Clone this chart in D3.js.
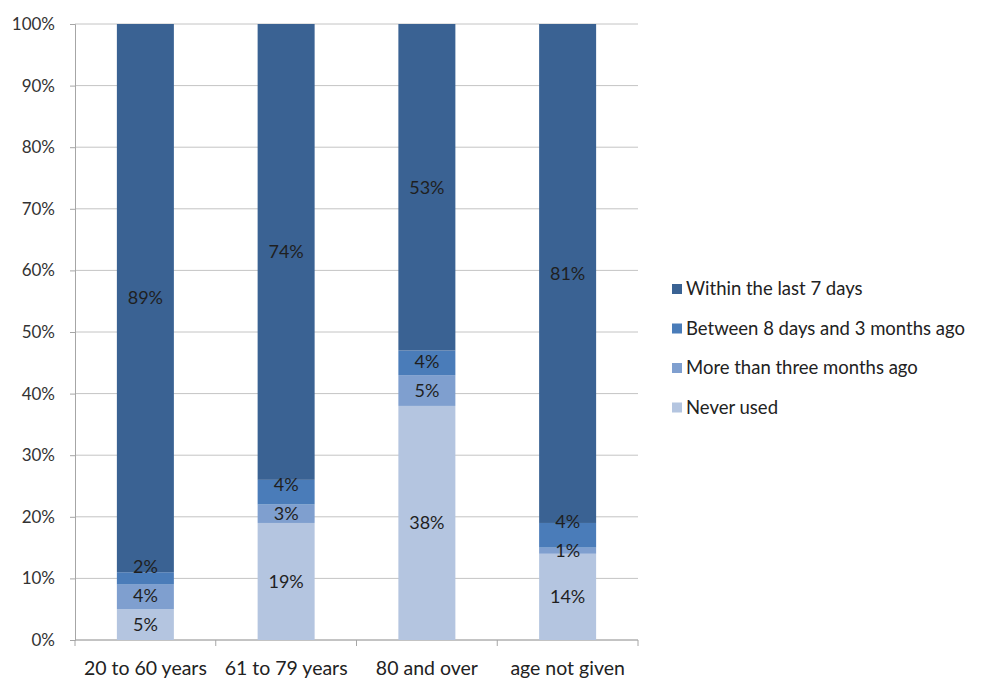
<!DOCTYPE html>
<html>
<head>
<meta charset="utf-8">
<script src="https://cdn.jsdelivr.net/npm/d3@7"></script>
<style>
  html, body { margin: 0; padding: 0; background: #fff; }
  svg text { font-family: Lato, "Open Sans", "Liberation Sans", sans-serif; }
</style>
</head>
<body>
<svg id="chart" width="981" height="679"></svg>
<script>
// Age groups along the x axis
const categories = ["20 to 60 years", "61 to 79 years", "80 and over", "age not given"];

// Share of respondents per age group (percent), bottom to top of each stack
const neverUsed      = [5, 19, 38, 14];
const moreThan3Mo    = [4, 3, 5, 1];
const between8d3Mo   = [2, 4, 4, 4];
const within7Days    = [89, 74, 53, 81];

const seriesNames  = ["Never used", "More than three months ago", "Between 8 days and 3 months ago", "Within the last 7 days"];
const seriesValues = [neverUsed, moreThan3Mo, between8d3Mo, within7Days];
const seriesColors = ["#b4c5e0", "#7f9fcf", "#4a7cb9", "#3a6293"];

const yTicks = [0, 10, 20, 30, 40, 50, 60, 70, 80, 90, 100];

const svg = d3.select("#chart");
const plot = { left: 75, right: 638, top: 24, bottom: 640 };

const x = d3.scaleBand()
  .domain(categories)
  .range([plot.left, plot.right])
  .paddingInner(0.595)
  .paddingOuter(0.2975);

const y = d3.scaleLinear().domain([0, 100]).range([plot.bottom, plot.top]);

// Horizontal gridlines
svg.append("g")
  .selectAll("line")
  .data(yTicks)
  .join("line")
  .attr("x1", plot.left).attr("x2", plot.right)
  .attr("y1", d => y(d)).attr("y2", d => y(d))
  .attr("stroke", "#c4c4c4").attr("stroke-width", 1);

// Y axis
const yAxis = svg.append("g")
  .attr("transform", `translate(${plot.left},0)`)
  .call(d3.axisLeft(y).tickValues(yTicks).tickFormat(d => d + "%").tickSize(5).tickPadding(15));
yAxis.select(".domain").attr("stroke", "#a6a6a6");
yAxis.selectAll(".tick line").attr("stroke", "#a6a6a6");
yAxis.selectAll("text").attr("font-size", 17).attr("fill", "#333");

// X axis with tick marks between categories
const xAxisG = svg.append("g").attr("transform", `translate(0,${plot.bottom})`);
xAxisG.append("line")
  .attr("x1", plot.left).attr("x2", plot.right)
  .attr("stroke", "#a6a6a6");
const boundaries = d3.range(categories.length + 1).map(i => plot.left + i * (plot.right - plot.left) / categories.length);
xAxisG.selectAll("line.sep")
  .data(boundaries)
  .join("line")
  .attr("class", "sep")
  .attr("x1", d => d).attr("x2", d => d)
  .attr("y1", 0).attr("y2", 6)
  .attr("stroke", "#a6a6a6");
xAxisG.selectAll("text")
  .data(categories)
  .join("text")
  .attr("x", d => x(d) + x.bandwidth() / 2)
  .attr("y", 28)
  .attr("dy", "0.35em")
  .attr("text-anchor", "middle")
  .attr("font-size", 19.5)
  .attr("fill", "#222")
  .text(d => d);

// Stacked bars
const rows = categories.map((c, i) => {
  const r = { category: c };
  seriesNames.forEach((s, k) => { r[s] = seriesValues[k][i]; });
  return r;
});
const stacked = d3.stack().keys(seriesNames)(rows);

const layers = svg.append("g")
  .selectAll("g")
  .data(stacked)
  .join("g")
  .attr("fill", (d, i) => seriesColors[i]);

layers.selectAll("rect")
  .data(d => d)
  .join("rect")
  .attr("x", d => x(d.data.category))
  .attr("width", x.bandwidth())
  .attr("y", d => y(d[1]))
  .attr("height", d => y(d[0]) - y(d[1]));

// Value labels: centred in each segment, pushed upward when thin segments would collide
const minGap = 29;
const labels = [];
categories.forEach((c, i) => {
  let prevY = Infinity;
  stacked.forEach(layer => {
    const d = layer[i];
    let ly = (y(d[0]) + y(d[1])) / 2;
    if (prevY - ly < minGap) ly = prevY - minGap;
    prevY = ly;
    labels.push({ cx: x(c) + x.bandwidth() / 2, cy: ly, text: (d[1] - d[0]) + "%" });
  });
});
svg.append("g")
  .selectAll("text")
  .data(labels)
  .join("text")
  .attr("x", d => d.cx)
  .attr("y", d => d.cy)
  .attr("dy", "0.35em")
  .attr("text-anchor", "middle")
  .attr("font-size", 18)
  .attr("fill", "#1f1f1f")
  .text(d => d.text);

// Legend (top entry is the top of the stack)
const legendItems = seriesNames.map((n, i) => ({ name: n, color: seriesColors[i] })).reverse();
const legend = svg.append("g").attr("transform", "translate(672,289)");
const li = legend.selectAll("g")
  .data(legendItems)
  .join("g")
  .attr("transform", (d, i) => `translate(0,${i * 39.5})`);
li.append("rect")
  .attr("x", 0).attr("y", -5).attr("width", 10).attr("height", 10)
  .attr("fill", d => d.color);
li.append("text")
  .attr("x", 14).attr("y", 0).attr("dy", "0.35em")
  .attr("font-size", 18.5).attr("fill", "#222")
  .text(d => d.name);
</script>
</body>
</html>
